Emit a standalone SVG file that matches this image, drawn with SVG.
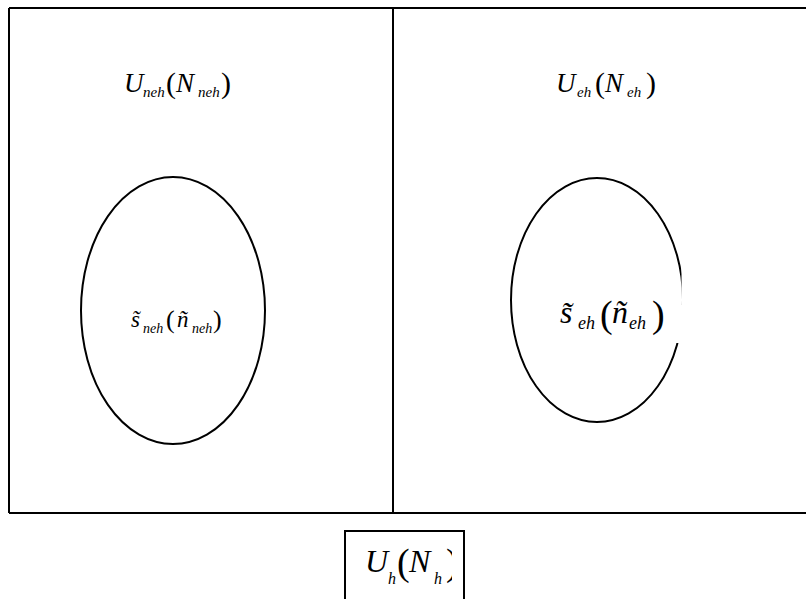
<svg xmlns="http://www.w3.org/2000/svg" width="806" height="599" viewBox="0 0 806 599">
<defs>
<style>
.ln{fill:none;stroke:#000;stroke-width:2}
.t{font-family:"Liberation Serif","Times New Roman",serif;font-style:italic;fill:#000}
.p{font-style:normal}
</style>
<clipPath id="clipR">
<polygon points="500,170 681.5,170 681.5,305 665,305 665,343 700,343 700,430 500,430"/>
</clipPath>
<clipPath id="clipB">
<rect x="340" y="535" width="112" height="64"/>
</clipPath>
</defs>
<rect width="806" height="599" fill="#fff"/>
<g id="frame">
<path class="ln" d="M9,8 H806 M9,8 V513 M9,513 H806 M393,8 V513"/>
</g>
<g id="region-neh">
<text class="t"><tspan x="124" y="92" font-size="27">U</tspan><tspan x="143" y="97" font-size="15">neh</tspan><tspan class="p" x="166" y="93" font-size="30">(</tspan><tspan x="176" y="92" font-size="27">N</tspan><tspan x="198" y="97" font-size="15">neh</tspan><tspan class="p" x="221" y="93" font-size="30">)</tspan></text>
</g>
<g id="region-eh">
<text class="t"><tspan x="556" y="92" font-size="27">U</tspan><tspan x="577" y="97" font-size="15">eh</tspan><tspan class="p" x="595" y="93" font-size="30">(</tspan><tspan x="605" y="92" font-size="27">N</tspan><tspan x="627" y="97" font-size="15">eh</tspan><tspan class="p" x="646" y="93" font-size="30">)</tspan></text>
</g>
<g id="sample-neh">
<ellipse class="ln" cx="173" cy="310.5" rx="92" ry="133.5"/>
<text class="t"><tspan x="131" y="327" font-size="23">s̃</tspan><tspan x="143" y="333" font-size="14">neh</tspan><tspan class="p" x="166" y="328" font-size="26">(</tspan><tspan x="177" y="327" font-size="23">ñ</tspan><tspan x="192" y="333" font-size="14">neh</tspan><tspan class="p" x="213" y="328" font-size="26">)</tspan></text>
</g>
<g id="sample-eh">
<ellipse class="ln" cx="597" cy="300" rx="86" ry="122" clip-path="url(#clipR)"/>
<text class="t"><tspan x="560" y="323" font-size="32">s̃</tspan><tspan x="578" y="329" font-size="18">eh</tspan><tspan class="p" x="600" y="327" font-size="38">(</tspan><tspan x="612" y="323" font-size="32">ñ</tspan><tspan x="629" y="329" font-size="18">eh</tspan><tspan class="p" x="652" y="327" font-size="38">)</tspan></text>
</g>
<g id="population-h">
<path class="ln" d="M345,599 V531 H464 V599"/>
<text class="t" clip-path="url(#clipB)"><tspan x="365" y="572" font-size="32">U</tspan><tspan x="388" y="584" font-size="16">h</tspan><tspan class="p" x="397" y="575" font-size="38">(</tspan><tspan x="409" y="572" font-size="32">N</tspan><tspan x="434" y="584" font-size="16">h</tspan><tspan class="p" x="446" y="575" font-size="38">)</tspan></text>
</g>
<g id="connectors"/>
</svg>
